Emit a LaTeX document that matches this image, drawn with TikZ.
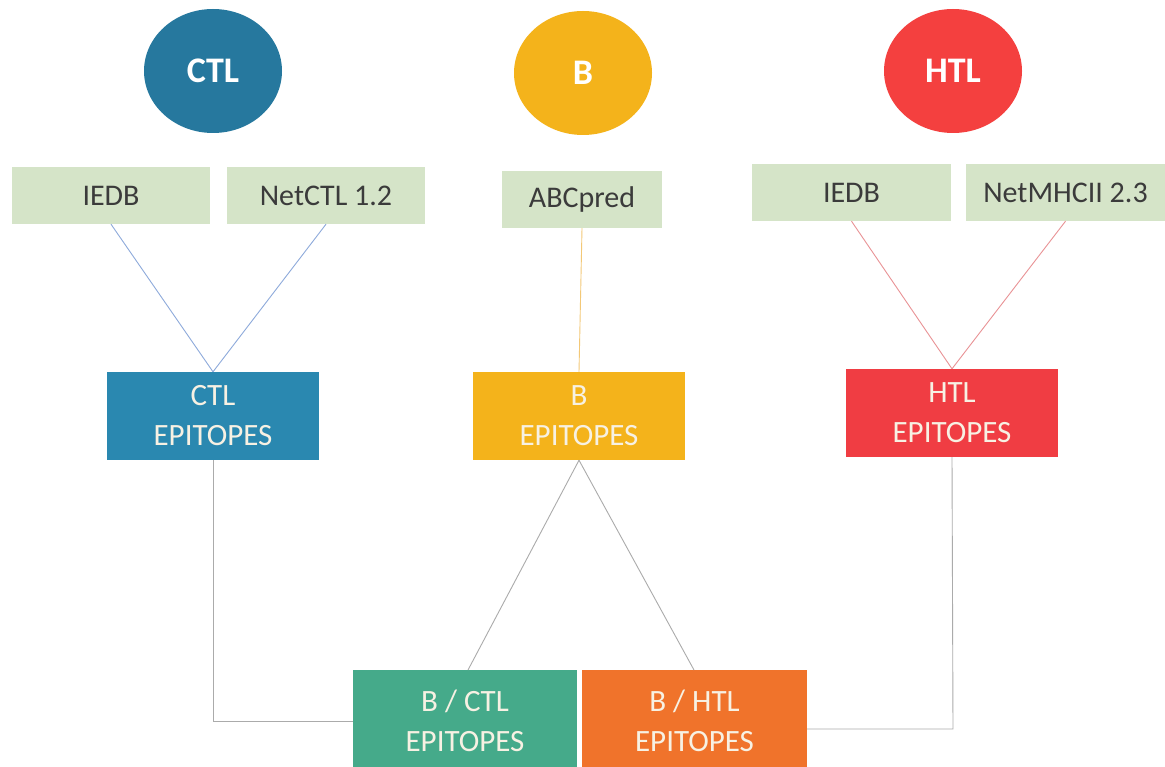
\documentclass[tikz,border=0pt]{standalone}
\usepackage{fontspec}
\setmainfont{Carlito}
\usetikzlibrary{shapes.geometric,calc}
\definecolor{ctlc}{HTML}{26789E}
\definecolor{ctlbox}{HTML}{2A88B0}
\definecolor{bc}{HTML}{F4B31B}
\definecolor{htlc}{HTML}{F4403F}
\definecolor{htlbox}{HTML}{F03D43}
\definecolor{toolc}{HTML}{D5E4C8}
\definecolor{bctlc}{HTML}{45AA8A}
\definecolor{bhtlc}{HTML}{F0732B}
\definecolor{tooltext}{HTML}{3B3B3B}
\definecolor{boxtext}{HTML}{F7F1E3}
\definecolor{lblue}{HTML}{8EAADB}
\definecolor{lorange}{HTML}{F3C877}
\definecolor{lpink}{HTML}{E99396}
\definecolor{lgray}{HTML}{ABABAB}
\tikzset{
  cell/.style={ellipse, inner sep=0pt, minimum width=138pt, minimum height=124pt, text=white, font=\fontsize{36}{40}\selectfont\bfseries},
  tool/.style={rectangle, fill=toolc, inner sep=0pt, minimum height=57pt, text=tooltext, font=\fontsize{30}{34}\selectfont},
  epi/.style={rectangle, inner sep=0pt, minimum width=212pt, minimum height=88pt, text=boxtext, align=center, font=\fontsize{31}{40}\selectfont},
  link/.style={line width=0.9pt},
}
\begin{document}
\begin{tikzpicture}[x=1pt,y=-1pt]
\useasboundingbox (0,0) rectangle (1165,767);
\fill[white] (0,0) rectangle (1165,767);
% cell circles
\node[cell, fill=ctlc] (ctl) at (213,71) {CTL};
\node[cell, fill=bc] (b) at (583,73) {B};
\node[cell, fill=htlc] (htl) at (953,71) {HTL};
% tools
\node[tool, minimum width=198pt] (iedbA) at (111,195.5) {IEDB};
\node[tool, minimum width=198pt] (netctl) at (326,195.5) {NetCTL 1.2};
\node[tool, minimum width=160pt] (abc) at (582,199.5) {ABCpred};
\node[tool, minimum width=199pt] (iedbB) at (851.5,192.5) {IEDB};
\node[tool, minimum width=199pt] (netmhc) at (1065.5,192.5) {NetMHCII 2.3};
% epitope boxes
\node[epi, fill=ctlbox] (ctlep) at (213,416) {CTL\\EPITOPES};
\node[epi, fill=bc] (bep) at (579,416) {B\\EPITOPES};
\node[epi, fill=htlbox] (htlep) at (952,413) {HTL\\EPITOPES};
% combined boxes
\node[epi, fill=bctlc, minimum width=224pt, minimum height=102pt] (bctl) at (465,721) {B / CTL\\EPITOPES};
\node[epi, fill=bhtlc, minimum width=225pt, minimum height=102pt] (bhtl) at (694.5,721) {B / HTL\\EPITOPES};
% connectors
\draw[link, lblue] (iedbA.south) -- (ctlep.north);
\draw[link, lblue] (netctl.south) -- (ctlep.north);
\draw[link, lorange] (abc.south) -- (bep.north);
\draw[link, lpink] (iedbB.south) -- (htlep.north);
\draw[link, lpink] (netmhc.south) -- (htlep.north);
\coordinate (lA) at (468,670);
\coordinate (lB) at (694,670);
\draw[link, lgray] (bep.south) -- (lA);
\draw[link, lgray] (bep.south) -- (lB);
\draw[link, lgray] (ctlep.south) |- (bctl.west);
\coordinate (hturn) at (953,729);
\draw[link, lgray] (htlep.south) -- (hturn) -- (bhtl.east |- hturn);
\end{tikzpicture}
\end{document}
